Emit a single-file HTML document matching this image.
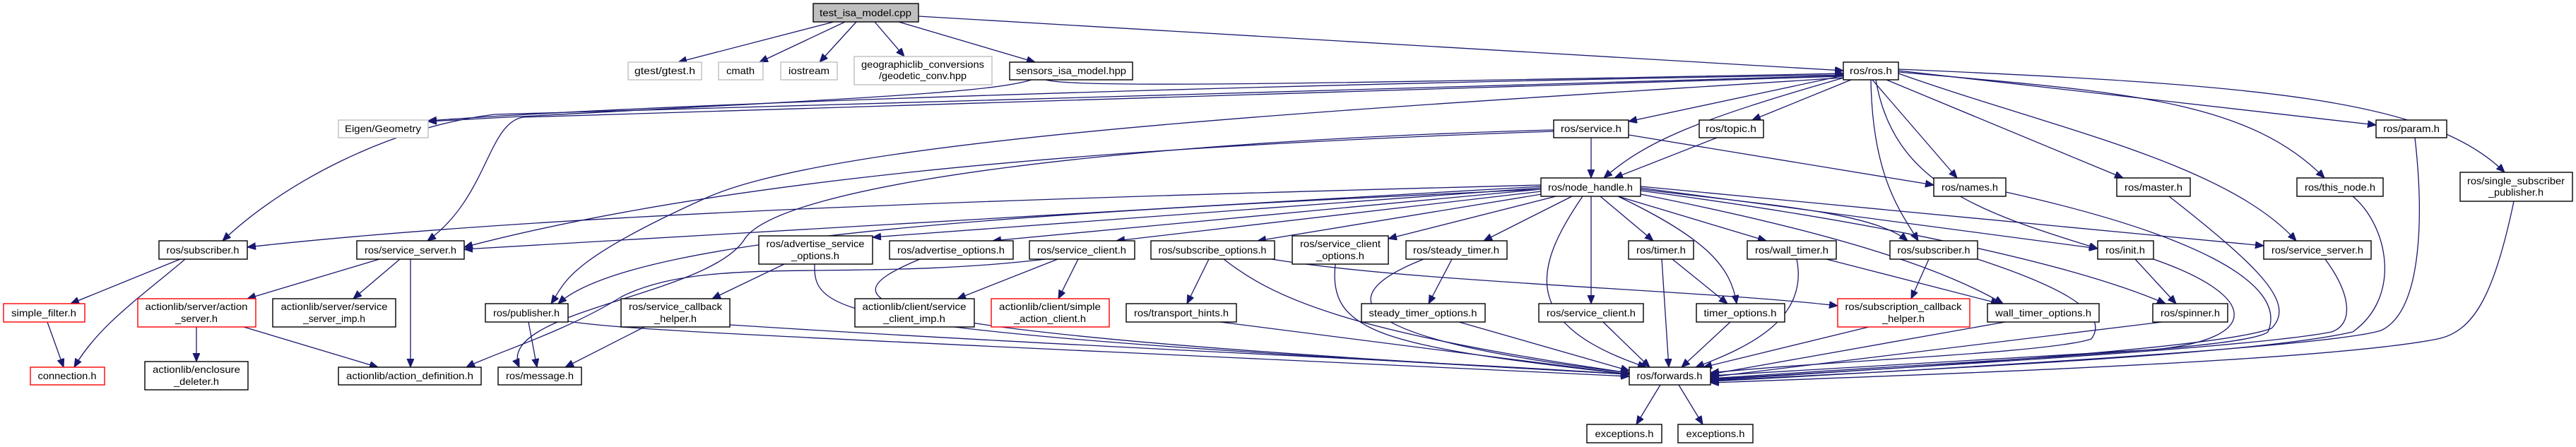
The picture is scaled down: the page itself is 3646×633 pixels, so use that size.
<!DOCTYPE html>
<html><head><meta charset="utf-8"><style>
html,body{margin:0;padding:0;background:#fff;}
svg{display:block;}
text{font-family:"Liberation Sans",sans-serif;font-size:14px;fill:#000;}
.e{fill:none;stroke:#191970;stroke-width:1.3;marker-end:url(#a);}
.n{fill:#fff;stroke:#000;stroke-width:1.4;}
.g{fill:#fff;stroke:#bfbfbf;stroke-width:1.4;}
.r{fill:#fff;stroke:#ff0000;stroke-width:1.4;}
</style></head><body>
<svg width="3646" height="633" viewBox="0 0 3646 633" xmlns="http://www.w3.org/2000/svg">
<defs><marker id="a" markerUnits="userSpaceOnUse" markerWidth="14" markerHeight="12" refX="12" refY="5" orient="auto"><path d="M0,0 L12,5 L0,10 Z" fill="#191970" stroke="#191970"/></marker></defs>
<g>
<path class="e" d="M1180 31 L960 88"/>
<path class="e" d="M1196 31 L1075 88"/>
<path class="e" d="M1212 31 L1160 88"/>
<path class="e" d="M1238 31 L1280 80"/>
<path class="e" d="M1272 31 L1465 88"/>
<path class="e" d="M1300 23 L2609 100"/>
<path class="e" d="M1460 113 C1400 132,1200 140,606 172"/>
<path class="e" d="M1480 113 C1520 124,1800 120,2609 104"/>
<path class="e" d="M2609 106 C2000 115,1000 142,606 171"/>
<path class="e" d="M2609 107 L700 162 C550 180,400 260,315 341"/>
<path class="e" d="M2609 108 L740 166 C690 175,690 280,605 341"/>
<path class="e" d="M2609 110 C2000 150,1200 190,1000 280 S800 400,780 430"/>
<path class="e" d="M2609 107 L2305 172"/>
<path class="e" d="M2620 113 L2480 170"/>
<path class="e" d="M2610 110 C2400 170,2330 200,2270 252"/>
<path class="e" d="M2650 113 L2770 252"/>
<path class="e" d="M2670 113 L3005 252"/>
<path class="e" d="M2687 102 C3000 130,3180 140,3290 252"/>
<path class="e" d="M2687 100 L3363 177"/>
<path class="e" d="M2687 98 C3200 120,3440 140,3545 244"/>
<path class="e" d="M2655 113 C2680 260,2800 300,2969 352"/>
<path class="e" d="M2648 113 C2650 250,2690 300,2715 341"/>
<path class="e" d="M2687 104 C2900 180,3150 230,3250 341"/>
<path class="e" d="M2252 195 L2252 252"/>
<path class="e" d="M2305 191 L2737 262"/>
<path class="e" d="M2199 184 C1600 200,1100 260,1053 340 C1000 420,700 440,735 520"/>
<path class="e" d="M2199 186 C1500 210,1000 260,657 350"/>
<path class="e" d="M2430 195 L2285 252"/>
<path class="e" d="M2181 262 C1500 280,800 300,350 350"/>
<path class="e" d="M2181 264 L657 353"/>
<path class="e" d="M2181 268 C1500 300,900 330,790 430"/>
<path class="e" d="M2181 266 L1235 336"/>
<path class="e" d="M2181 268 L1405 341"/>
<path class="e" d="M2190 270 L1580 341"/>
<path class="e" d="M2200 272 L1780 341"/>
<path class="e" d="M2210 276 L1965 338"/>
<path class="e" d="M2225 278 L2100 341"/>
<path class="e" d="M2265 278 L2340 341"/>
<path class="e" d="M2290 278 L2500 341"/>
<path class="e" d="M2322 268 C2500 290,2650 300,2700 341"/>
<path class="e" d="M2322 266 L2969 352"/>
<path class="e" d="M2322 264 L3204 348"/>
<path class="e" d="M2322 270 C2700 320,2950 380,3065 430"/>
<path class="e" d="M2252 278 L2252 430"/>
<path class="e" d="M2290 278 C2420 340,2450 380,2458 430"/>
<path class="e" d="M2240 278 C2170 380,2150 460,2330 520"/>
<path class="e" d="M2322 275 C2600 330,2750 380,2835 430"/>
<path class="e" d="M255 367 L100 430"/>
<path class="e" d="M262 367 C200 420,140 460,105 520"/>
<path class="e" d="M67 456 L90 520"/>
<path class="e" d="M537 367 L350 423"/>
<path class="e" d="M566 367 L500 423"/>
<path class="e" d="M581 367 L581 520"/>
<path class="e" d="M278 463 L278 512"/>
<path class="e" d="M345 463 L535 520"/>
<path class="e" d="M748 456 L760 520"/>
<path class="e" d="M804 455 C900 470,1200 480,2306 533"/>
<path class="e" d="M912 463 L800 520"/>
<path class="e" d="M1033 460 C1500 490,2000 510,2306 530"/>
<path class="e" d="M1110 374 L1008 423"/>
<path class="e" d="M1153 374 C1150 450,1200 470,2306 530"/>
<path class="e" d="M1302 367 C1150 430,1200 470,2306 530"/>
<path class="e" d="M1497 367 L1355 423"/>
<path class="e" d="M1526 367 L1498 423"/>
<path class="e" d="M1480 367 C1200 400,1000 360,880 420 C800 470,700 500,660 520"/>
<path class="e" d="M1711 367 L1680 430"/>
<path class="e" d="M1732 367 C1800 420,1900 470,2306 528"/>
<path class="e" d="M1800 367 C2000 400,2400 410,2601 433"/>
<path class="e" d="M1727 456 L2306 530"/>
<path class="e" d="M1890 374 C1880 470,1950 490,2306 530"/>
<path class="e" d="M2055 367 L2022 430"/>
<path class="e" d="M2015 367 C1880 420,1900 480,2306 528"/>
<path class="e" d="M2065 456 L2306 525"/>
<path class="e" d="M2269 456 L2335 520"/>
<path class="e" d="M2367 367 L2445 430"/>
<path class="e" d="M2352 367 L2362 520"/>
<path class="e" d="M2449 456 L2380 520"/>
<path class="e" d="M2585 367 L2830 430"/>
<path class="e" d="M2543 367 C2560 450,2480 490,2400 520"/>
<path class="e" d="M2730 367 L2705 423"/>
<path class="e" d="M2799 367 C2900 400,2990 440,2960 480 C2900 500,2600 510,2421 528"/>
<path class="e" d="M2645 463 L2411 520"/>
<path class="e" d="M2838 456 L2421 530"/>
<path class="e" d="M3022 367 L3080 430"/>
<path class="e" d="M3048 367 C3200 420,3200 480,3050 495 L2421 532"/>
<path class="e" d="M3060 456 L2421 534"/>
<path class="e" d="M2839 272 C3100 330,3240 400,3210 470 C3180 495,2800 510,2421 536"/>
<path class="e" d="M3070 278 C3200 380,3250 430,3215 465 C3150 490,2800 515,2421 538"/>
<path class="e" d="M3330 278 C3380 320,3400 420,3330 470 C3200 500,2800 520,2421 539"/>
<path class="e" d="M3418 195 C3430 300,3430 440,3370 468 C3300 490,2800 520,2421 540"/>
<path class="e" d="M3558 285 C3530 420,3500 470,3450 480 C3300 510,2800 528,2421 542"/>
<path class="e" d="M3291 367 C3330 420,3330 460,3300 470 C3200 490,2800 515,2421 537"/>
<path class="e" d="M2350 545 L2316 601"/>
<path class="e" d="M2376 545 L2410 601"/>
</g>
<g>
<rect x="1151" y="5" width="149" height="26" fill="#bfbfbf" stroke="#000" stroke-width="1.4"/><text x="1225" y="23" text-anchor="middle" textLength="130" lengthAdjust="spacingAndGlyphs">test_isa_model.cpp</text>
<rect class="g" x="889" y="88" width="104" height="25"/><text x="941" y="105" text-anchor="middle" textLength="86" lengthAdjust="spacingAndGlyphs">gtest/gtest.h</text>
<rect class="g" x="1017" y="88" width="63" height="25"/><text x="1048" y="105" text-anchor="middle" textLength="40" lengthAdjust="spacingAndGlyphs">cmath</text>
<rect class="g" x="1105" y="88" width="80" height="25"/><text x="1145" y="105" text-anchor="middle" textLength="58" lengthAdjust="spacingAndGlyphs">iostream</text>
<rect class="g" x="1209" y="80" width="195" height="40"/><text x="1306" y="96" text-anchor="middle" textLength="174" lengthAdjust="spacingAndGlyphs">geographiclib_conversions</text><text x="1306" y="112" text-anchor="middle" textLength="124" lengthAdjust="spacingAndGlyphs">/geodetic_conv.hpp</text>
<rect class="n" x="1429" y="88" width="174" height="25"/><text x="1516" y="105" text-anchor="middle" textLength="156" lengthAdjust="spacingAndGlyphs">sensors_isa_model.hpp</text>
<rect class="n" x="2609" y="88" width="78" height="25"/><text x="2648" y="105" text-anchor="middle" textLength="60" lengthAdjust="spacingAndGlyphs">ros/ros.h</text>
<rect class="g" x="479" y="170" width="127" height="25"/><text x="542" y="187" text-anchor="middle" textLength="108" lengthAdjust="spacingAndGlyphs">Eigen/Geometry</text>
<rect class="n" x="2199" y="170" width="106" height="25"/><text x="2252" y="187" text-anchor="middle" textLength="86" lengthAdjust="spacingAndGlyphs">ros/service.h</text>
<rect class="n" x="2405" y="170" width="91" height="25"/><text x="2450" y="187" text-anchor="middle" textLength="72" lengthAdjust="spacingAndGlyphs">ros/topic.h</text>
<rect class="n" x="3363" y="170" width="100" height="25"/><text x="3413" y="187" text-anchor="middle" textLength="80" lengthAdjust="spacingAndGlyphs">ros/param.h</text>
<rect class="n" x="2181" y="252" width="141" height="26"/><text x="2251" y="270" text-anchor="middle" textLength="120" lengthAdjust="spacingAndGlyphs">ros/node_handle.h</text>
<rect class="n" x="2737" y="252" width="102" height="26"/><text x="2788" y="270" text-anchor="middle" textLength="80" lengthAdjust="spacingAndGlyphs">ros/names.h</text>
<rect class="n" x="2996" y="252" width="104" height="26"/><text x="3048" y="270" text-anchor="middle" textLength="82" lengthAdjust="spacingAndGlyphs">ros/master.h</text>
<rect class="n" x="3251" y="252" width="122" height="26"/><text x="3312" y="270" text-anchor="middle" textLength="100" lengthAdjust="spacingAndGlyphs">ros/this_node.h</text>
<rect class="n" x="3482" y="244" width="159" height="41"/><text x="3561" y="261" text-anchor="middle" textLength="138" lengthAdjust="spacingAndGlyphs">ros/single_subscriber</text><text x="3561" y="277" text-anchor="middle" textLength="78" lengthAdjust="spacingAndGlyphs">_publisher.h</text>
<rect class="n" x="225" y="341" width="125" height="26"/><text x="287" y="359" text-anchor="middle" textLength="103" lengthAdjust="spacingAndGlyphs">ros/subscriber.h</text>
<rect class="n" x="505" y="341" width="152" height="26"/><text x="581" y="359" text-anchor="middle" textLength="130" lengthAdjust="spacingAndGlyphs">ros/service_server.h</text>
<rect class="n" x="1074" y="334" width="161" height="40"/><text x="1154" y="350" text-anchor="middle" textLength="139" lengthAdjust="spacingAndGlyphs">ros/advertise_service</text><text x="1154" y="367" text-anchor="middle" textLength="68" lengthAdjust="spacingAndGlyphs">_options.h</text>
<rect class="n" x="1259" y="341" width="175" height="26"/><text x="1346" y="359" text-anchor="middle" textLength="152" lengthAdjust="spacingAndGlyphs">ros/advertise_options.h</text>
<rect class="n" x="1457" y="341" width="149" height="26"/><text x="1531" y="359" text-anchor="middle" textLength="126" lengthAdjust="spacingAndGlyphs">ros/service_client.h</text>
<rect class="n" x="1629" y="341" width="175" height="26"/><text x="1716" y="359" text-anchor="middle" textLength="153" lengthAdjust="spacingAndGlyphs">ros/subscribe_options.h</text>
<rect class="n" x="1829" y="334" width="136" height="40"/><text x="1897" y="350" text-anchor="middle" textLength="114" lengthAdjust="spacingAndGlyphs">ros/service_client</text><text x="1897" y="367" text-anchor="middle" textLength="68" lengthAdjust="spacingAndGlyphs">_options.h</text>
<rect class="n" x="1990" y="341" width="143" height="26"/><text x="2061" y="359" text-anchor="middle" textLength="122" lengthAdjust="spacingAndGlyphs">ros/steady_timer.h</text>
<rect class="n" x="2305" y="341" width="92" height="26"/><text x="2351" y="359" text-anchor="middle" textLength="70" lengthAdjust="spacingAndGlyphs">ros/timer.h</text>
<rect class="n" x="2473" y="341" width="126" height="26"/><text x="2536" y="359" text-anchor="middle" textLength="104" lengthAdjust="spacingAndGlyphs">ros/wall_timer.h</text>
<rect class="n" x="2675" y="341" width="124" height="26"/><text x="2737" y="359" text-anchor="middle" textLength="103" lengthAdjust="spacingAndGlyphs">ros/subscriber.h</text>
<rect class="n" x="2969" y="341" width="79" height="26"/><text x="3008" y="359" text-anchor="middle" textLength="56" lengthAdjust="spacingAndGlyphs">ros/init.h</text>
<rect class="n" x="3204" y="341" width="152" height="26"/><text x="3280" y="359" text-anchor="middle" textLength="130" lengthAdjust="spacingAndGlyphs">ros/service_server.h</text>
<rect class="r" x="5" y="430" width="115" height="26"/><text x="62" y="448" text-anchor="middle" textLength="92" lengthAdjust="spacingAndGlyphs">simple_filter.h</text>
<rect class="r" x="195" y="423" width="167" height="40"/><text x="278" y="439" text-anchor="middle" textLength="145" lengthAdjust="spacingAndGlyphs">actionlib/server/action</text><text x="278" y="456" text-anchor="middle" textLength="60" lengthAdjust="spacingAndGlyphs">_server.h</text>
<rect class="n" x="386" y="423" width="174" height="40"/><text x="473" y="439" text-anchor="middle" textLength="151" lengthAdjust="spacingAndGlyphs">actionlib/server/service</text><text x="473" y="456" text-anchor="middle" textLength="88" lengthAdjust="spacingAndGlyphs">_server_imp.h</text>
<rect class="n" x="687" y="430" width="117" height="26"/><text x="745" y="448" text-anchor="middle" textLength="94" lengthAdjust="spacingAndGlyphs">ros/publisher.h</text>
<rect class="n" x="879" y="423" width="154" height="40"/><text x="956" y="439" text-anchor="middle" textLength="132" lengthAdjust="spacingAndGlyphs">ros/service_callback</text><text x="956" y="456" text-anchor="middle" textLength="60" lengthAdjust="spacingAndGlyphs">_helper.h</text>
<rect class="n" x="1210" y="423" width="169" height="40"/><text x="1294" y="439" text-anchor="middle" textLength="147" lengthAdjust="spacingAndGlyphs">actionlib/client/service</text><text x="1294" y="456" text-anchor="middle" textLength="88" lengthAdjust="spacingAndGlyphs">_client_imp.h</text>
<rect class="r" x="1403" y="423" width="167" height="40"/><text x="1486" y="439" text-anchor="middle" textLength="144" lengthAdjust="spacingAndGlyphs">actionlib/client/simple</text><text x="1486" y="456" text-anchor="middle" textLength="102" lengthAdjust="spacingAndGlyphs">_action_client.h</text>
<rect class="n" x="1594" y="430" width="156" height="26"/><text x="1672" y="448" text-anchor="middle" textLength="134" lengthAdjust="spacingAndGlyphs">ros/transport_hints.h</text>
<rect class="n" x="1927" y="430" width="175" height="26"/><text x="2014" y="448" text-anchor="middle" textLength="153" lengthAdjust="spacingAndGlyphs">steady_timer_options.h</text>
<rect class="n" x="2178" y="430" width="148" height="26"/><text x="2252" y="448" text-anchor="middle" textLength="126" lengthAdjust="spacingAndGlyphs">ros/service_client.h</text>
<rect class="n" x="2401" y="430" width="125" height="26"/><text x="2463" y="448" text-anchor="middle" textLength="103" lengthAdjust="spacingAndGlyphs">timer_options.h</text>
<rect class="r" x="2601" y="423" width="187" height="40"/><text x="2694" y="439" text-anchor="middle" textLength="165" lengthAdjust="spacingAndGlyphs">ros/subscription_callback</text><text x="2694" y="456" text-anchor="middle" textLength="60" lengthAdjust="spacingAndGlyphs">_helper.h</text>
<rect class="n" x="2813" y="430" width="158" height="26"/><text x="2892" y="448" text-anchor="middle" textLength="136" lengthAdjust="spacingAndGlyphs">wall_timer_options.h</text>
<rect class="n" x="3047" y="430" width="106" height="26"/><text x="3100" y="448" text-anchor="middle" textLength="84" lengthAdjust="spacingAndGlyphs">ros/spinner.h</text>
<rect class="r" x="43" y="520" width="105" height="25"/><text x="95" y="537" text-anchor="middle" textLength="83" lengthAdjust="spacingAndGlyphs">connection.h</text>
<rect class="n" x="205" y="512" width="146" height="40"/><text x="278" y="528" text-anchor="middle" textLength="124" lengthAdjust="spacingAndGlyphs">actionlib/enclosure</text><text x="278" y="545" text-anchor="middle" textLength="64" lengthAdjust="spacingAndGlyphs">_deleter.h</text>
<rect class="n" x="479" y="520" width="202" height="25"/><text x="580" y="537" text-anchor="middle" textLength="180" lengthAdjust="spacingAndGlyphs">actionlib/action_definition.h</text>
<rect class="n" x="705" y="520" width="118" height="25"/><text x="764" y="537" text-anchor="middle" textLength="96" lengthAdjust="spacingAndGlyphs">ros/message.h</text>
<rect class="n" x="2306" y="520" width="115" height="25"/><text x="2363" y="537" text-anchor="middle" textLength="93" lengthAdjust="spacingAndGlyphs">ros/forwards.h</text>
<rect class="n" x="2246" y="601" width="106" height="26"/><text x="2299" y="619" text-anchor="middle" textLength="83" lengthAdjust="spacingAndGlyphs">exceptions.h</text>
<rect class="n" x="2375" y="601" width="106" height="26"/><text x="2428" y="619" text-anchor="middle" textLength="83" lengthAdjust="spacingAndGlyphs">exceptions.h</text>
</g>
</svg>
</body></html>
